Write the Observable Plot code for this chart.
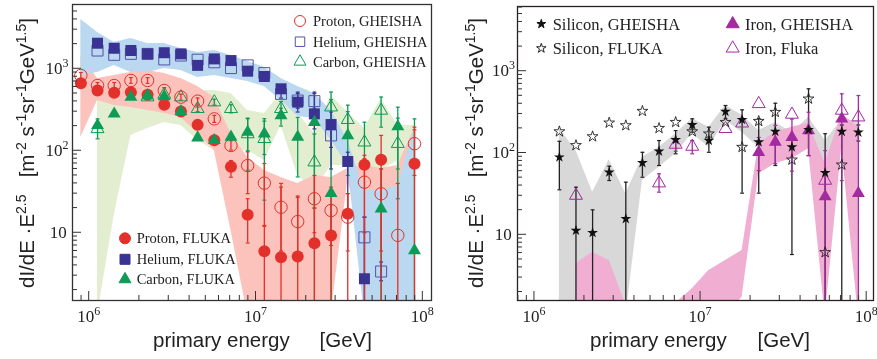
<!DOCTYPE html>
<html><head><meta charset="utf-8">
<script src="https://cdn.jsdelivr.net/npm/d3@7"></script>
<script src="https://cdn.jsdelivr.net/npm/@observablehq/plot@0.6"></script>
<style>
body{margin:0;background:#fff;}
#wrap{display:flex;width:877px;height:359px;overflow:hidden;}
</style></head><body><div id="wrap"><div id="left"></div><div id="right"></div></div>
<script>
// ===================== DATA (left panel: p, He, C) =====================
const lgE_L = [5.95,6.05,6.15,6.25,6.35,6.45,6.55,6.65,6.75,6.85,6.95,7.05,7.15,7.25,7.35,7.45,7.55,7.65,7.75,7.85,7.95];

const protonF    = [667,544,509,519,482,364,301,207,134,64,16.6,5.97,5.03,5.14,7.47,9.27,17.1,67.5,77.6,null,69.4];
const protonF_lo = [null,null,null,null,null,null,null,null,null,47.6,7.5,1,1,1,1,1,1,1,1,null,1];
const protonF_hi = [null,null,null,null,null,null,null,null,null,76,26,12.3,36,27,20,22,30,88,154,null,194];
const protonG    = [829,625,625,720,720,544,451,403,245,116,66,40.3,20.5,13.7,26,18.7,15.5,41.4,29.9,9.3,122];
const protonG_lo = [760,575,575,665,665,500,415,370,222,102,30,12,6,5,10,7,6,10,6,1,50];
const protonG_hi = [900,680,680,780,780,590,490,440,270,133,97,70,40,28,50,36,30,80,60,40,180];

const heliumF    = [null,2050,1780,1670,1520,1570,1520,1100,1320,1260,935,805,570,392,282,209,74,2.75,null,null,null];
const heliumF_lo = [null,null,null,null,null,null,null,null,null,null,null,null,null,297,185,60,16.4,1,null,null,null];
const heliumF_hi = [null,null,null,null,null,null,null,null,null,null,null,null,null,519,519,297,96,15.5,null,null,null];
const heliumG    = [null,1670,1480,1520,1520,1300,1450,1290,1200,1020,1100,885,495,410,403,154,null,8.8,3.37,null,null];
const heliumG_lo = [null,null,null,null,null,null,null,null,null,null,null,null,440,330,310,110,null,1,2.6,null,null];
const heliumG_hi = [null,null,null,null,null,null,null,null,null,null,null,null,560,500,500,215,null,15.5,4.4,null,null];

const carbonF    = [null,204,282,451,472,459,301,144,134,147,169,161,269,147,223,30.4,154,null,19.6,198,6.08];
const carbonF_lo = [null,null,null,null,null,null,null,null,null,null,58,25,200,48,1,1,50,null,1,26,1];
const carbonF_hi = [null,null,null,null,null,null,null,null,null,null,246,246,330,255,330,420,300,null,60,340,245];
const carbonG    = [null,185,null,null,451,486,451,325,392,325,160,140,325,null,72.6,340,239,127,310,122,null];
const carbonG_lo = [null,140,null,null,null,null,null,300,360,290,100,90,270,null,20,200,150,69,194,60,null];
const carbonG_hi = [null,245,null,null,null,null,null,355,425,365,250,230,400,null,160,520,360,223,452,250,null];

// systematic bands
const redBandHi   = [1453,762,828,901,953,877,762,608,447,163,83,57.5,47.2,39.9,50,47.2,60.8,66.2,60.8,66.2,187];
const redBandLo   = [145,411,357,337,310,285,255,163,101,10.7,1,1,1,1,1,1,43.4,8.05,1,8.05,43.4];
const blueBandHi  = [3990,2770,2094,2344,2036,2036,1767,1580,1670,1453,1228,1047,762,608,499,310,134,32.8,32.8,37.7,187];
const blueBandLo  = [828,901,1097,901,901,1009,953,784,828,762,700,608,411,262,248,134,66,1,1,1,1];
const greenBandHi = [null,447,434,543,575,543,499,543,543,499,310,285,499,285,163,472,293,187,434,204,204];
const greenBandLo = [null,1,16.3,154,187,221,204,134,101,99,101,76,204,50,32.8,66,66,28.5,57.5,76,76];

// ===================== DATA (right panel: Si, Fe) =====================
const lgE_R = [6.15,6.25,6.35,6.45,6.55,6.65,6.75,6.85,6.95,7.05,7.15,7.25,7.35,7.45,7.55,7.65,7.75,7.85,7.95];

const siG    = [88.9,11.3,10.6,58.2,15.7,75.9,105,145,221,142,321,255,136,183,118,192,57.3,183,179];
const siG_lo = [35.5,1,1,46.1,1,50.6,70.3,97.8,180,102,262,32.3,32.3,70.3,5.74,93,1,1,140];
const siG_hi = [139,38.2,20.2,69,44,102,142,188,262,207,381,337,262,406,149,609,172,220,220];
const siF    = [183,124,159,234,217,325,201,238,183,172,238,118,245,316,82.6,460,6.1,71.8,null];

const feG    = [null,null,null,null,null,null,null,null,null,null,null,null,102,136,156,188,29.4,262,32.3];
const feG_lo = [null,null,null,null,null,null,null,null,null,null,null,null,61,74,60,93,1,46,1];
const feG_hi = [null,null,null,null,null,null,null,null,null,null,null,null,155,217,260,315,107,529,504];
const feF    = [null,30.2,null,null,null,null,42.8,127,120,null,198,231,399,null,296,null,46.1,331,274];
const feF_lo = [null,null,null,null,null,null,33.2,105,97.8,null,null,null,null,null,null,null,null,null,null];
const feF_hi = [null,null,null,null,null,null,55.7,150,142,null,null,null,null,null,null,null,null,null,null];

const grayHi = [199,107,33.2,82.6,31.7,89,117,172,263,206,381,288,188,236,178,272,142,250,250];
const grayLo = [1,1,1,1,1,46,67,97.8,173,117,250,178,117,142,99.6,178,70,142,117];
const pinkHi = [null,4.45,6.08,4.85,1.4,null,null,1.45,2.19,3.66,4.85,6.43,130,180,207,231,73.8,301,207];
const pinkLo = [null,1,1,1,1,null,null,1,1,1,1,1.73,55.7,73.8,85,113,1,118,1];

const xTickDecades = [6,7,8];
const yTickDecades = [1,2,3];

// ===================== helpers =====================
const RED="#e3302a", BLUE="#3a3393", GREEN="#0d9b56", PURPLE="#a32a9f", BLACK="#111";
const SERIF="'Liberation Serif','Times New Roman',serif";
const SANS="'Liberation Sans',Arial,Helvetica,sans-serif";

function pts(lg, v){ return lg.map((l,i)=>({E:Math.pow(10,l), v:v[i]})).filter(d=>d.v!=null); }
function errs(lg, lo, hi){ return lg.map((l,i)=>({E:Math.pow(10,l), lo:lo[i], hi:hi[i]})).filter(d=>d.lo!=null&&d.hi!=null); }
function caps(lg, lo, hi){ const out=[]; lg.forEach((l,i)=>{ if(lo[i]!=null&&hi[i]!=null){ out.push({E:Math.pow(10,l),y:lo[i]}); out.push({E:Math.pow(10,l),y:hi[i]}); } }); return out; }
function band(lg, hi, lo){ return lg.map((l,i)=>({E:Math.pow(10,l), hi:hi[i], lo:lo[i]})); }

const capSym = {draw(ctx,size){ const w=Math.sqrt(size)/2; ctx.moveTo(-w,0); ctx.lineTo(w,0); }};

function errMarks(lg, lo, hi, color){
  return [
    Plot.ruleX(errs(lg,lo,hi), {x:"E", y1:"lo", y2:"hi", stroke:color, strokeWidth:1.3, clip:true}),
    Plot.dot(caps(lg,lo,hi), {x:"E", y:"y", symbol:capSym, r:2.2, stroke:color, strokeWidth:1.2, clip:true})
  ];
}
function bandMark(lg, hi, lo, color){
  return Plot.areaY(band(lg,hi,lo), {x:"E", y1:"lo", y2:"hi", fill:color, mixBlendMode:"multiply", clip:true, curve:"linear",
    filter: d => d.hi!=null && d.lo!=null});
}

function makePanel(cfg){
  const plot = Plot.plot({
    width: cfg.w, height: 359,
    marginLeft: cfg.ml, marginRight: cfg.mr, marginTop: cfg.mt, marginBottom: 59,
    x: {type:"log", domain: cfg.xd, axis: null},
    y: {type:"log", domain: cfg.yd, axis: null},
    style: {background:"#fff", overflow:"visible"},
    marks: cfg.marks
  });
  const sxo = plot.scale("x"), syo = plot.scale("y");
  const fx = (sxo && sxo.apply) ? (v => sxo.apply(v)) : d3.scaleLog(cfg.xd, [cfg.ml, cfg.w-cfg.mr]);
  const fy = (syo && syo.apply) ? (v => syo.apply(v)) : d3.scaleLog(cfg.yd, [359-59, cfg.mt]);
  const svg = d3.select(plot);
  const g = svg.append("g").attr("text-anchor","start");
  const bottom = 359-59, left = cfg.ml;
  for (let d=5; d<=8; d++) for (let k=1;k<=9;k++){
    const v=k*Math.pow(10,d); if (v<cfg.xd[0]||v>cfg.xd[1]) continue;
    const x=fx(v), len = k===1?9:5;
    g.append("line").attr("x1",x).attr("x2",x).attr("y1",bottom).attr("y2",bottom-len).attr("stroke","#333").attr("stroke-width",1);
  }
  for (let d=0; d<=3; d++) for (let k=1;k<=9;k++){
    const v=k*Math.pow(10,d); if (v<cfg.yd[0]||v>cfg.yd[1]) continue;
    const y=fy(v), len = k===1?9:5;
    g.append("line").attr("x1",left).attr("x2",left+len).attr("y1",y).attr("y2",y).attr("stroke","#333").attr("stroke-width",1);
  }
  xTickDecades.forEach(d=>{
    const t=g.append("text").attr("x",fx(Math.pow(10,d))).attr("y",322).attr("text-anchor","middle")
      .style("font-family",SERIF).style("font-size","17px").attr("fill","#222");
    t.append("tspan").text("10");
    t.append("tspan").attr("dy",-7).style("font-size","12px").text(String(d));
  });
  yTickDecades.forEach(d=>{
    const y=fy(Math.pow(10,d));
    const t=g.append("text").attr("x", d===1?cfg.ylab10:cfg.ylabX).attr("y",y+5.5).attr("text-anchor","end")
      .style("font-family",SERIF).style("font-size","17px").attr("fill","#222");
    t.append("tspan").text("10");
    if(d>1) t.append("tspan").attr("dy",-7).style("font-size","12px").text(String(d));
  });
  g.append("text").attr("x",cfg.xtStart).attr("y",347).attr("text-anchor","start").style("font-family",SANS).style("font-size","20.5px").attr("fill","#222").text("primary energy");
  g.append("text").attr("x",cfg.xtEnd).attr("y",347).attr("text-anchor","end").style("font-family",SANS).style("font-size","20.5px").attr("fill","#222").text("[GeV]");
  const yt = g.append("text").attr("transform",`translate(${cfg.ytX},18) rotate(-90)`).attr("text-anchor","end")
    .style("font-family",SANS).style("font-size","20.5px").style("white-space","pre").attr("fill","#222");
  const parts = [["dI/dE \u00b7E",null],["2.5","sup"],["   [m",null],["-2","sup"],[" s",null],["-1","sup"],["sr",null],["-1","sup"],["GeV",null],["1.5","sup"],["]",null]];
  let up=false;
  parts.forEach(([txt,kind])=>{
    const ts = yt.append("tspan").text(txt);
    if(kind==="sup"){ ts.attr("dy",-8).style("font-size","14px"); up=true; }
    else if(up){ ts.attr("dy",8); up=false; }
  });
  cfg.legend.forEach(e=>{
    const p = d3.symbol().type(e.sym).size(e.size)();
    g.append("path").attr("d",p).attr("transform",`translate(${e.x},${e.y})`)
      .attr("fill", e.filled?e.color:"none").attr("stroke",e.color).attr("stroke-width",1);
    g.append("text").attr("x",e.tx).attr("y",e.y+e.fs*0.34).attr("text-anchor","start").style("font-family",SERIF).style("font-size",e.fs+"px").attr("fill","#222").text(e.label);
  });
  return plot;
}

// ===================== LEFT PANEL =====================
const leftMarks = [
  bandMark(lgE_L, greenBandHi, greenBandLo, "#e2eecf"),
  bandMark(lgE_L, redBandHi, redBandLo, "#fbc3bb"),
  bandMark(lgE_L, blueBandHi, blueBandLo, "#bad8ef"),
  ...errMarks(lgE_L, carbonG_lo, carbonG_hi, GREEN),
  ...errMarks(lgE_L, carbonF_lo, carbonF_hi, GREEN),
  ...errMarks(lgE_L, heliumG_lo, heliumG_hi, BLUE),
  ...errMarks(lgE_L, heliumF_lo, heliumF_hi, BLUE),
  ...errMarks(lgE_L, protonG_lo, protonG_hi, RED),
  ...errMarks(lgE_L, protonF_lo, protonF_hi, RED),
  Plot.dot(pts(lgE_L, heliumG), {x:"E", y:"v", symbol:"square", r:6.2, stroke:"#5550ad", strokeWidth:1, fill:"none", clip:true}),
  Plot.dot(pts(lgE_L, carbonG), {x:"E", y:"v", symbol:"triangle", r:4.8, stroke:GREEN, strokeWidth:1, fill:"none", clip:true}),
  Plot.dot(pts(lgE_L, protonG), {x:"E", y:"v", symbol:"circle", r:6.2, stroke:RED, strokeWidth:1, fill:"none", clip:true}),
  Plot.dot(pts(lgE_L, heliumF), {x:"E", y:"v", symbol:"square", r:6.2, fill:BLUE, clip:true}),
  Plot.dot(pts(lgE_L, protonF), {x:"E", y:"v", symbol:"circle", r:6, fill:RED, clip:true}),
  Plot.dot(pts(lgE_L, carbonF), {x:"E", y:"v", symbol:"triangle", r:4.8, fill:GREEN, clip:true}),
  Plot.frame({stroke:"#333", strokeWidth:1.3})
];
const leftPlot = makePanel({
  w:438, ml:72, mr:7, mt:4,
  xd:[Math.pow(10,5.9), Math.pow(10,8.052)], yd:[Math.pow(10,0.174), Math.pow(10,3.784)],
  marks:leftMarks, ylabX:68.5, ylab10:66.7, xtStart:153, xtEnd:372, ytX:34,
  legend:[
    {sym:d3.symbolCircle, size:95, filled:false, color:RED, x:300, y:21, tx:313, fs:14.5, label:"Proton, GHEISHA"},
    {sym:d3.symbolSquare, size:90, filled:false, color:"#5550ad", x:300, y:41.7, tx:313, fs:14.5, label:"Helium, GHEISHA"},
    {sym:d3.symbolTriangle, size:62, filled:false, color:GREEN, x:300, y:61.7, tx:313, fs:14.5, label:"Carbon, GHEISHA"},
    {sym:d3.symbolCircle, size:95, filled:true, color:RED, x:125, y:238.3, tx:136.7, fs:14.5, label:"Proton, FLUKA"},
    {sym:d3.symbolSquare, size:100, filled:true, color:BLUE, x:125, y:259.3, tx:136.7, fs:14.5, label:"Helium, FLUKA"},
    {sym:d3.symbolTriangle, size:62, filled:true, color:GREEN, x:125, y:279.3, tx:136.7, fs:14.5, label:"Carbon, FLUKA"}
  ]
});
document.getElementById("left").appendChild(leftPlot);

// ===================== RIGHT PANEL =====================
const rightMarks = [
  bandMark(lgE_R, grayHi, grayLo, "#d7d8d7"),
  bandMark(lgE_R, pinkHi, pinkLo, "#f0aed3"),
  ...errMarks(lgE_R, siG_lo, siG_hi, "#222"),
  ...errMarks(lgE_R, feG_lo, feG_hi, PURPLE),
  ...errMarks(lgE_R, feF_lo, feF_hi, PURPLE),
  Plot.dot(pts(lgE_R, feF), {x:"E", y:"v", symbol:"triangle", r:4.8, stroke:PURPLE, strokeWidth:1, fill:"none", clip:true}),
  Plot.dot(pts(lgE_R, siF), {x:"E", y:"v", symbol:"star", r:3.4, stroke:"#222", strokeWidth:0.9, fill:"none", clip:true}),
  Plot.dot(pts(lgE_R, feG), {x:"E", y:"v", symbol:"triangle", r:4.8, fill:PURPLE, clip:true}),
  Plot.dot(pts(lgE_R, siG), {x:"E", y:"v", symbol:"star", r:3.4, fill:BLACK, clip:true}),
  Plot.frame({stroke:"#2a2020", strokeWidth:1.3})
];
const rightPlot = makePanel({
  w:439, ml:79, mr:4, mt:6,
  xd:[Math.pow(10,5.898), Math.pow(10,8.041)], yd:[Math.pow(10,0.197), Math.pow(10,3.791)],
  marks:rightMarks, ylabX:77, ylab10:73.7, xtStart:152, xtEnd:372, ytX:45,
  legend:[
    {sym:d3.symbolStar, size:24, filled:true, color:BLACK, x:103.3, y:24, tx:114.7, fs:16.5, label:"Silicon, GHEISHA"},
    {sym:d3.symbolStar, size:28, filled:false, color:"#222", x:103.3, y:48.3, tx:114.7, fs:16.5, label:"Silicon, FLUKA"},
    {sym:d3.symbolTriangle, size:73, filled:true, color:PURPLE, x:294.7, y:24, tx:307, fs:16.5, label:"Iron, GHEISHA"},
    {sym:d3.symbolTriangle, size:73, filled:false, color:PURPLE, x:294.7, y:48.3, tx:307, fs:16.5, label:"Iron, Fluka"}
  ]
});
document.getElementById("right").appendChild(rightPlot);
</script></body></html>
